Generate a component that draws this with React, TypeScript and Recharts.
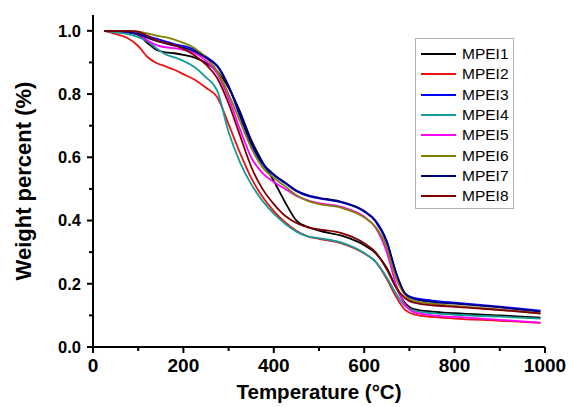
import React from 'react';
import { LineChart, Line, XAxis, YAxis, Legend } from 'recharts';

const temps = [25, 50, 75, 100, 120, 140, 160, 180, 200, 225, 250, 275, 300, 325, 350, 375, 400, 425, 450, 475, 500, 550, 600, 625, 650, 670, 690, 710, 750, 800, 900, 990];

const mpei1 = [1.0, 0.998, 0.995, 0.987, 0.962, 0.94, 0.932, 0.929, 0.924, 0.915, 0.898, 0.872, 0.82, 0.745, 0.655, 0.585, 0.525, 0.458, 0.4, 0.38, 0.368, 0.352, 0.322, 0.297, 0.25, 0.19, 0.14, 0.12, 0.112, 0.107, 0.1, 0.093];
const mpei2 = [1.0, 0.99, 0.978, 0.952, 0.918, 0.898, 0.888, 0.877, 0.863, 0.845, 0.82, 0.79, 0.705, 0.615, 0.535, 0.475, 0.43, 0.395, 0.368, 0.35, 0.342, 0.328, 0.296, 0.27, 0.215, 0.16, 0.118, 0.103, 0.095, 0.09, 0.083, 0.076];
const mpei3 = [1.0, 1.0, 0.997, 0.99, 0.983, 0.975, 0.967, 0.958, 0.952, 0.94, 0.918, 0.89, 0.825, 0.73, 0.64, 0.578, 0.543, 0.518, 0.493, 0.478, 0.47, 0.457, 0.428, 0.397, 0.33, 0.235, 0.17, 0.155, 0.147, 0.14, 0.128, 0.115];
const mpei4 = [1.0, 0.995, 0.99, 0.98, 0.968, 0.945, 0.926, 0.916, 0.905, 0.885, 0.853, 0.81, 0.68, 0.585, 0.515, 0.462, 0.422, 0.39, 0.365, 0.35, 0.344, 0.33, 0.297, 0.27, 0.22, 0.17, 0.13, 0.115, 0.107, 0.102, 0.096, 0.09];
const mpei5 = [1.0, 1.0, 0.997, 0.99, 0.97, 0.955, 0.948, 0.945, 0.94, 0.93, 0.905, 0.865, 0.787, 0.69, 0.6, 0.55, 0.522, 0.5, 0.478, 0.464, 0.455, 0.443, 0.412, 0.378, 0.3, 0.2, 0.135, 0.11, 0.1, 0.095, 0.086, 0.077];
const mpei6 = [1.0, 1.0, 1.0, 0.997, 0.992, 0.985, 0.98, 0.972, 0.962, 0.945, 0.915, 0.872, 0.8, 0.715, 0.63, 0.568, 0.535, 0.508, 0.48, 0.462, 0.452, 0.44, 0.41, 0.38, 0.315, 0.22, 0.165, 0.145, 0.137, 0.13, 0.118, 0.106];
const mpei7 = [1.0, 1.0, 0.997, 0.99, 0.978, 0.968, 0.96, 0.953, 0.947, 0.935, 0.915, 0.887, 0.825, 0.738, 0.648, 0.582, 0.546, 0.52, 0.495, 0.48, 0.472, 0.459, 0.43, 0.4, 0.335, 0.238, 0.17, 0.152, 0.143, 0.137, 0.125, 0.112];
const mpei8 = [1.0, 1.0, 1.0, 0.997, 0.985, 0.97, 0.962, 0.955, 0.943, 0.922, 0.893, 0.85, 0.77, 0.67, 0.57, 0.5, 0.452, 0.415, 0.392, 0.378, 0.372, 0.36, 0.328, 0.3, 0.245, 0.19, 0.155, 0.14, 0.132, 0.127, 0.117, 0.106];

const seriesNames = ['MPEI1', 'MPEI2', 'MPEI3', 'MPEI4', 'MPEI5', 'MPEI6', 'MPEI7', 'MPEI8'];
const seriesValues = [mpei1, mpei2, mpei3, mpei4, mpei5, mpei6, mpei7, mpei8];
const seriesColors = ['#000000', '#ee1111', '#0000ff', '#169a9a', '#ff00ff', '#808000', '#00007a', '#800000'];

const xTicks = [0, 100, 200, 300, 400, 500, 600, 700, 800, 900, 1000];
const yTicks = [0, 0.1, 0.2, 0.3, 0.4, 0.5, 0.6, 0.7, 0.8, 0.9, 1.0];

const data = temps.map((t, i) => {
  const row: Record<string, number> = { t };
  seriesNames.forEach((n, k) => {
    row[n] = seriesValues[k][i];
  });
  return row;
});

const FONT = "Arial, 'Liberation Sans', sans-serif";

const XTick = (props: any) => {
  const { x, y, payload } = props;
  const v = payload.value;
  const major = v % 200 === 0;
  return (
    <g>
      <line x1={x} x2={x} y1={y} y2={y + (major ? 6 : 4)} stroke="#000" strokeWidth={2} />
      {major && (
        <text x={x} y={y + 25} textAnchor="middle" fontFamily={FONT} fontWeight="bold" fontSize={19} fill="#000">
          {v}
        </text>
      )}
    </g>
  );
};

const YTick = (props: any) => {
  const { x, y, payload } = props;
  const v = payload.value;
  const idx = Math.round(v * 10);
  const major = idx % 2 === 0;
  return (
    <g>
      <line x1={x} x2={x - (major ? 6 : 4)} y1={y} y2={y} stroke="#000" strokeWidth={2} />
      {major && (
        <text x={x - 12} y={y} dy="0.36em" textAnchor="end" fontFamily={FONT} fontWeight="bold" fontSize={16.5} fill="#000">
          {v.toFixed(1)}
        </text>
      )}
    </g>
  );
};

const renderLegend = (props: any) => {
  const payload = props.payload || [];
  return (
    <div
      style={{
        border: '1px solid #b0b0b0',
        background: '#fff',
        width: 97,
        height: 164,
        boxSizing: 'content-box',
        paddingTop: 5,
        fontFamily: FONT,
      }}
    >
      {payload.map((p: any) => (
        <div key={p.value} style={{ height: 20.3, display: 'flex', alignItems: 'center' }}>
          <svg width={46} height={20} style={{ display: 'block' }}>
            <line x1={5} x2={40} y1={10} y2={10} stroke={p.color} strokeWidth={2} />
          </svg>
          <span style={{ fontSize: 15.5, color: '#000', lineHeight: '20px' }}>{p.value}</span>
        </div>
      ))}
    </div>
  );
};

export default function App() {
  return (
    <div style={{ position: 'absolute', left: 0, top: 0, width: 572, height: 407, background: '#fff' }}>
      <LineChart width={572} height={407} data={data} margin={{ top: 15, right: 27, bottom: 0, left: 33 }}>
        <XAxis
          dataKey="t"
          type="number"
          domain={[0, 1000]}
          ticks={xTicks}
          interval={0}
          tickSize={0}
          tickMargin={0}
          tickLine={false}
          tick={<XTick />}
          axisLine={{ stroke: '#000', strokeWidth: 2 }}
          height={60}
          label={{
            value: 'Temperature (°C)',
            position: 'insideBottom',
            offset: 8,
            style: { fontFamily: FONT, fontWeight: 'bold', fontSize: 20.5, fill: '#000' },
          }}
        />
        <YAxis
          type="number"
          domain={[0, 1.05]}
          ticks={yTicks}
          interval={0}
          tickSize={0}
          tickMargin={0}
          tickLine={false}
          tick={<YTick />}
          axisLine={{ stroke: '#000', strokeWidth: 2 }}
          width={60}
          allowDataOverflow
          label={{
            value: 'Weight percent (%)',
            angle: -90,
            position: 'insideLeft',
            offset: -10,
            style: { textAnchor: 'middle', fontFamily: FONT, fontWeight: 'bold', fontSize: 22, fill: '#000' },
          }}
        />
        <Legend
          layout="horizontal"
          align="center"
          verticalAlign="middle"
          content={renderLegend}
          wrapperStyle={{ left: 415, top: 38, width: 99, height: 170 }}
        />
        {seriesNames.map((n, k) => (
          <Line
            key={n}
            dataKey={n}
            name={n}
            type="monotone"
            stroke={seriesColors[k]}
            strokeWidth={1.8}
            dot={false}
            activeDot={false}
            isAnimationActive={false}
          />
        ))}
      </LineChart>
    </div>
  );
}
